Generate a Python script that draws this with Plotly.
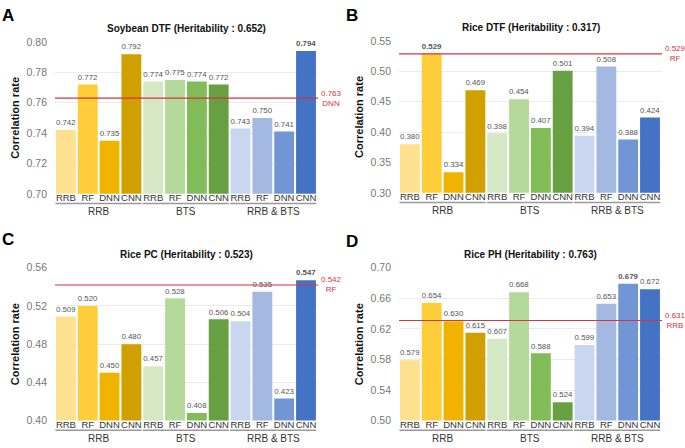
import plotly.graph_objects as go

# ---------------- data ----------------
groups = ["RRB", "BTS", "RRB & BTS"]
methods = ["RRB", "RF", "DNN", "CNN"]

titles = ["Soybean DTF (Heritability : 0.652)", "Rice DTF (Heritability : 0.317)",
          "Rice PC (Heritability : 0.523)", "Rice PH (Heritability : 0.763)"]
panel_letters = ["A", "B", "C", "D"]

soy_dtf_rrb = [0.742, 0.772, 0.735, 0.792]
soy_dtf_bts = [0.774, 0.775, 0.774, 0.772]
soy_dtf_both = [0.743, 0.750, 0.741, 0.794]

rice_dtf_rrb = [0.380, 0.529, 0.334, 0.469]
rice_dtf_bts = [0.398, 0.454, 0.407, 0.501]
rice_dtf_both = [0.394, 0.508, 0.388, 0.424]

rice_pc_rrb = [0.509, 0.520, 0.450, 0.480]
rice_pc_bts = [0.457, 0.528, 0.408, 0.506]
rice_pc_both = [0.504, 0.535, 0.423, 0.547]

rice_ph_rrb = [0.579, 0.654, 0.630, 0.615]
rice_ph_bts = [0.607, 0.668, 0.588, 0.524]
rice_ph_both = [0.599, 0.653, 0.679, 0.672]

baseline_values = [0.763, 0.529, 0.542, 0.631]
baseline_labels = ["DNN", "RF", "RF", "RRB"]

y_ranges = [(0.70, 0.80), (0.30, 0.55), (0.40, 0.56), (0.50, 0.70)]
y_dticks = [0.02, 0.05, 0.04, 0.04]

panels = [
    [soy_dtf_rrb, soy_dtf_bts, soy_dtf_both],
    [rice_dtf_rrb, rice_dtf_bts, rice_dtf_both],
    [rice_pc_rrb, rice_pc_bts, rice_pc_both],
    [rice_ph_rrb, rice_ph_bts, rice_ph_both],
]

# ---------------- style ----------------
W, H = 685, 448
colors = ["#FFE08E", "#FFCD3A", "#F0B400", "#D09F00",
          "#D5E8C6", "#B4D99A", "#82BC58", "#67A041",
          "#C9D6EF", "#A3B9E2", "#7195D5", "#4472C4"]
red = "#D4353F"
FONT = "Liberation Sans, Arial, sans-serif"

# plot areas in pixels: (left, right, top, bottom)
boxes = [(55, 318, 37, 193), (399, 662, 36, 192), (55, 318, 269, 426), (399, 662, 269, 426)]
letter_y = [10, 10, 240, 242]

fig = go.Figure()
layout = dict(width=W, height=H, margin=dict(l=0, r=0, t=0, b=0),
              plot_bgcolor="white", paper_bgcolor="white", showlegend=False,
              bargap=0.09, font=dict(family=FONT, color="#333333"))
annotations = []
shapes = []

keys = [f"{g}|{m}" for g in groups for m in methods]
ticktext = [m for g in groups for m in methods]

for i, (series, box) in enumerate(zip(panels, boxes)):
    l, r, t, b = box
    xa = "xaxis" if i == 0 else f"xaxis{i+1}"
    ya = "yaxis" if i == 0 else f"yaxis{i+1}"
    xref = "x" if i == 0 else f"x{i+1}"
    yref = "y" if i == 0 else f"y{i+1}"
    vals = [v for s in series for v in s]
    vmax = max(vals)
    texts = [f"<b>{v:.3f}</b>" if v == vmax else f"{v:.3f}" for v in vals]
    fig.add_trace(go.Bar(x=keys, y=vals, marker=dict(color=colors, line=dict(width=0)),
                         text=texts, textposition="outside", cliponaxis=False,
                         textfont=dict(size=8.5, color="#555555", family=FONT),
                         xaxis=xref, yaxis=yref, hoverinfo="x+y"))
    layout[xa] = dict(domain=[l / W, r / W], anchor=yref, type="category",
                      tickvals=keys, ticktext=ticktext, ticks="", showgrid=False,
                      showline=False, zeroline=False, range=[-0.5, 11.55],
                      tickangle=0, ticklabelstandoff=-3,
                      tickfont=dict(size=9.5, color="#333333"))
    y0, y1 = y_ranges[i]
    layout[ya] = dict(domain=[1 - b / H, 1 - t / H], anchor=xref, range=[y0, y1],
                      dtick=y_dticks[i], tick0=y0, tickformat=".2f", showgrid=True,
                      gridcolor="#EBEBEB", gridwidth=1, zeroline=False, showline=False,
                      tickfont=dict(size=10.5, color="#777777"), ticklabelstandoff=7,
                      title=dict(text="<b>Correlation rate</b>", font=dict(size=11, color="#111111"),
                                 standoff=4))
    # baseline
    shapes.append(dict(type="line", xref=f"{xref} domain", yref=yref, x0=0, x1=1,
                       y0=baseline_values[i], y1=baseline_values[i],
                       line=dict(color=red, width=1.2), layer="above"))
    annotations.append(dict(xref=f"{xref} domain", yref=yref, x=1.0, y=baseline_values[i],
                            xanchor="left", yanchor="middle", xshift=1, showarrow=False, align="center",
                            text=f"{baseline_values[i]:.3f}<br>{baseline_labels[i]}",
                            font=dict(size=8, color=red)))
    # group labels and underlines
    for gi, g in enumerate(groups):
        start = gi * 4
        shapes.append(dict(type="line", xref=xref, yref=f"{yref} domain",
                           x0=start - 0.48, x1=start + 3.47, y0=-10 / (b - t), y1=-10 / (b - t),
                           line=dict(color="#9A9A9A", width=1.5)))
        annotations.append(dict(xref=xref, yref=f"{yref} domain", x=start + 1.5,
                                y=-18 / (b - t), xanchor="center", yanchor="middle", showarrow=False,
                                text=g, font=dict(size=10, color="#333333")))
    # title
    annotations.append(dict(xref="paper", yref="paper", x=(l + r) / 2 / W,
                            y=1 - (t - 14) / H, xanchor="center", yanchor="middle", showarrow=False,
                            text=f"<b>{titles[i]}</b>", font=dict(size=10, color="#111111")))
    # panel letter
    annotations.append(dict(xref="paper", yref="paper", x=(l - 55) / W,
                            y=1 - letter_y[i] / H, xanchor="left", yanchor="middle",
                            showarrow=False, text=f"<b>{panel_letters[i]}</b>",
                            font=dict(size=17, color="#000000")))

layout["annotations"] = annotations
layout["shapes"] = shapes
fig.update_layout(**layout)
fig.write_html("out.html", config={"displayModeBar": False},
               post_script="document.body.style.margin='0';document.body.style.padding='0';")
